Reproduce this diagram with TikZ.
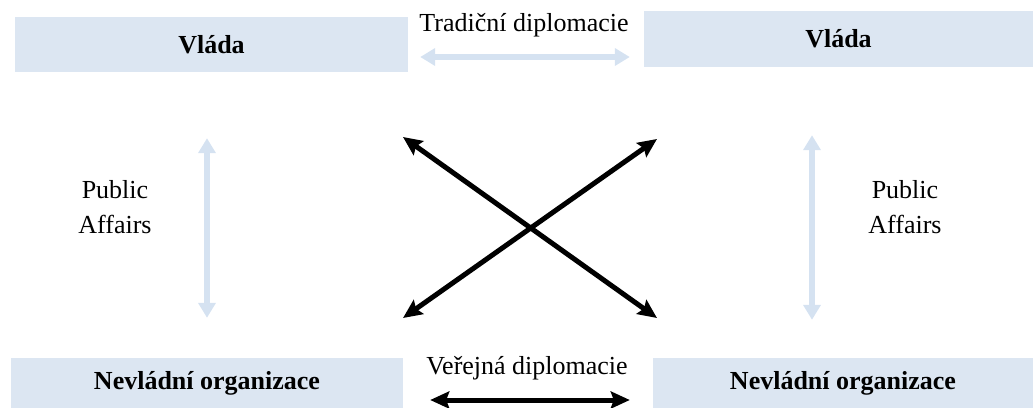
\documentclass[tikz,border=0pt]{standalone}
\usepackage{fontspec}
\setmainfont{Liberation Serif}
\definecolor{paleblue}{HTML}{DCE6F2}
\definecolor{softblue}{HTML}{D5E2F1}
\usetikzlibrary{calc, positioning, arrows.meta}

\begin{document}
\begin{tikzpicture}[x=1pt, y=-1pt,
  panel/.style={fill=paleblue, draw=none, inner sep=0pt, align=center,
                font=\fontsize{26}{35}\selectfont\bfseries},
  caption/.style={inner sep=0pt, align=center, font=\fontsize{26}{35}\selectfont},
  softarrow/.style={draw=softblue, line width=5.5pt,
                    {Triangle[length=15pt, width=17pt]}-{Triangle[length=15pt, width=17pt]}},
  hardarrow/.style={draw=black, line width=5pt,
                    {Stealth[length=19pt, width=17pt, inset=3pt]}-{Stealth[length=19pt, width=17pt, inset=3pt]}},
]
\useasboundingbox (0,0) rectangle (1033,407);

\node[panel, minimum width=393pt, minimum height=55pt] (vl) at (211.5,44.5) {Vláda};
\node[panel, minimum width=389pt, minimum height=56pt] (vr) at (838.5,39) {Vláda};
\node[panel, minimum width=392pt, minimum height=50pt] (nl) at (207,383) {Nevládní organizace};
\node[panel, minimum width=380pt, minimum height=50pt] (nr) at (843,383) {Nevládní organizace};

\node[caption] (tradicni) at (524,25) {Tradiční diplomacie};
\node[caption] (verejna) at (527,368) {Veřejná diplomacie};
\node[caption] (paleft) at (115,207) {Public\\Affairs};
\node[caption] (paright) at (905,207) {Public\\Affairs};

\draw[softarrow, shorten <=12pt, shorten >=14pt] ([yshift=-12.5pt]vl.east) -- ([yshift=-18pt]vr.west);
\draw[hardarrow, shorten <=27pt, shorten >=23pt] ([yshift=-17pt]nl.east) -- ([yshift=-17pt]nr.west);
\draw[softarrow, shorten <=66pt, shorten >=40pt] (nl.north |- vl.south) -- (nl.north);
\draw[softarrow, shorten <=68pt, shorten >=38pt] ([xshift=-26.5pt]vr.south) -- ([xshift=-31pt]nr.north);

\coordinate (xtl) at (403,137);
\coordinate (xbr) at (657,318);
\coordinate (xtr) at (657,139);
\coordinate (xbl) at (403,318);
\draw[hardarrow] (xtl) -- (xbr);
\draw[hardarrow] (xbl) -- (xtr);
\end{tikzpicture}
\end{document}
